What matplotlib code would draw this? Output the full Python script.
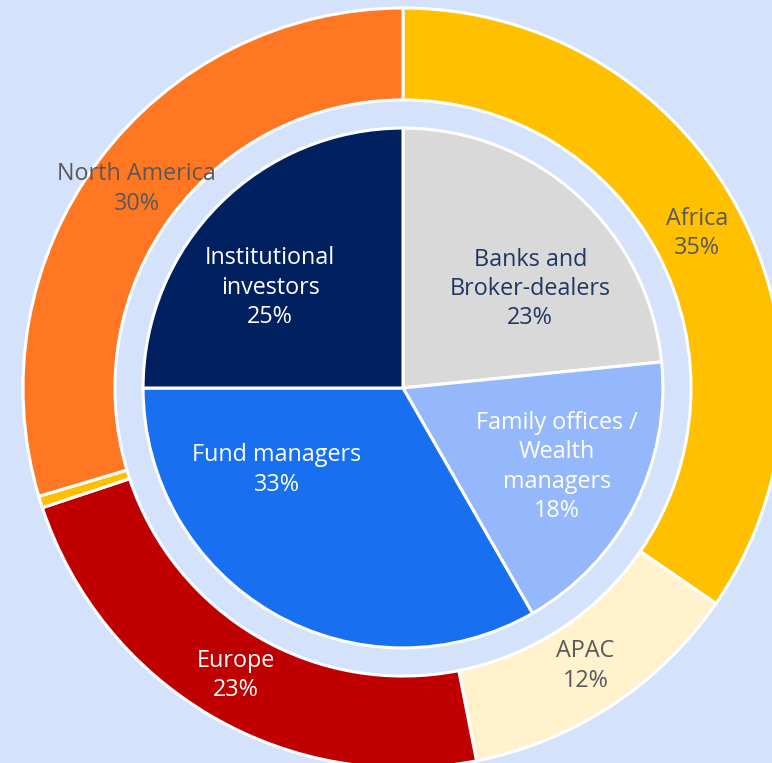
import numpy as np
import matplotlib.pyplot as plt

plt.rcParams['font.family'] = ['Open Sans', 'DejaVu Sans']

# outer ring: regions
regions = ['Africa', 'APAC', 'Europe', 'Other', 'North America']
region_share = [34.6, 12.3, 23.0, 0.5, 29.6]
region_pct = ['35%', '12%', '23%', '', '30%']
region_colors = ['#FFC000', '#FFF2CC', '#C00000', '#FFC000', '#FF7722']
region_text = ['#595959', '#595959', 'white', '#595959', '#595959']

# inner pie: investor types
investors = ['Banks and\nBroker-dealers', 'Family offices /\nWealth\nmanagers',
             'Fund managers', 'Institutional\ninvestors']
investor_share = [23.4, 18.3, 33.3, 25.0]
investor_pct = ['23%', '18%', '33%', '25%']
investor_colors = ['#D9D9D9', '#95B7FB', '#1870F0', '#002060']
investor_text = ['#1F3864', 'white', 'white', 'white']

bg = '#D5E2FB'
W, H = 772, 763
cx, cy, R = 403, 388, 380
FS = 16.8

fig = plt.figure(figsize=(W / 100, H / 100), dpi=100, facecolor=bg)
ax = fig.add_axes([0, 0, 1, 1])
ax.set_facecolor(bg)

wedge_style = dict(edgecolor='white', linewidth=2.2)

# outer ring
outer_labels = [f'{n}\n{p}' if p else '' for n, p in zip(regions, region_pct)]
w_out, t_out = ax.pie(region_share, radius=1.0, colors=region_colors,
                      startangle=90, counterclock=False,
                      labels=outer_labels, labeldistance=0.875,
                      wedgeprops=dict(width=0.242, **wedge_style),
                      textprops=dict(fontsize=FS, linespacing=1.3))
for t, c in zip(t_out, region_text):
    t.set_ha('center')
    t.set_va('center')
    t.set_color(c)

# inner pie
r_in = 0.684
inner_labels = [f'{n}\n{p}' for n, p in zip(investors, investor_pct)]
w_in, t_in = ax.pie(investor_share, radius=r_in, colors=investor_colors,
                    startangle=90, counterclock=False,
                    labels=inner_labels, labeldistance=0.63,
                    wedgeprops=wedge_style,
                    textprops=dict(fontsize=FS, linespacing=1.3))

# move some inner labels off the wedge mid-angle
angle_shift = [-10, 0, -27, 8]
radius_scale = [0.62, 0.665, 0.58, 0.64]
for t, w, c, da, rs in zip(t_in, w_in, investor_text, angle_shift, radius_scale):
    mid = np.deg2rad((w.theta1 + w.theta2) / 2 + da)
    t.set_position((r_in * rs * np.cos(mid), r_in * rs * np.sin(mid)))
    t.set_ha('center')
    t.set_va('center')
    t.set_color(c)

# frame so the centre sits where the reference has it (pie gets clipped)
ax.set_aspect('auto')
ax.set_xlim(-cx / R, (W - cx) / R)
ax.set_ylim(-(H - cy) / R, cy / R)
ax.axis('off')

fig.savefig('out.png', dpi=100, facecolor=bg)
